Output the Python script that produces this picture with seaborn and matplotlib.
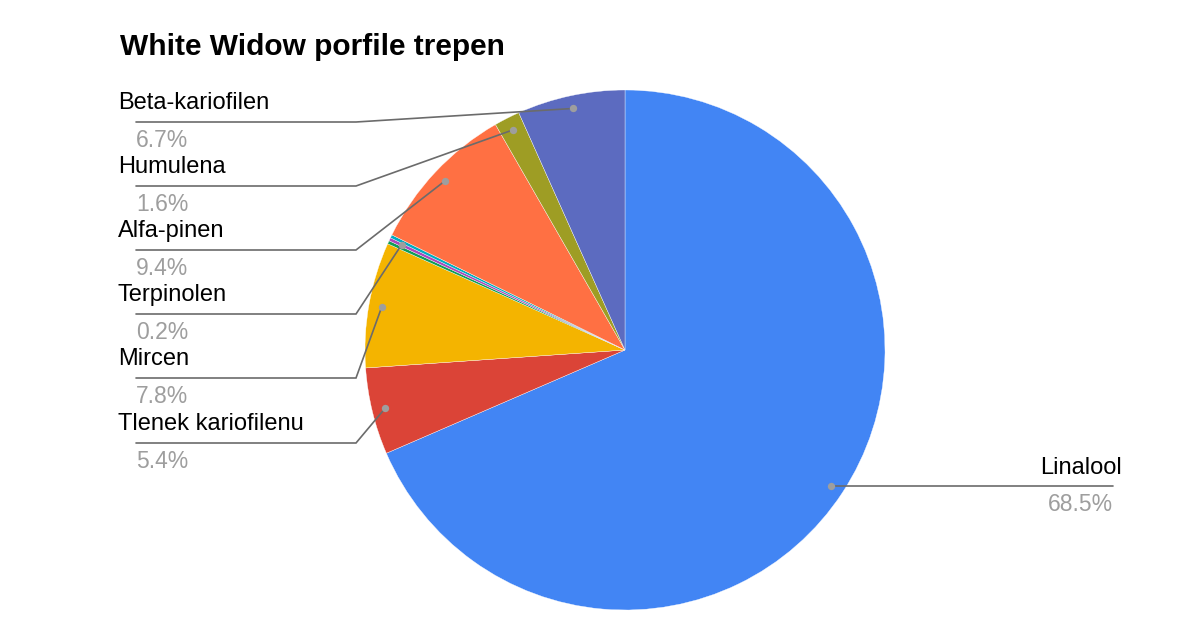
import matplotlib
matplotlib.use("Agg")
import matplotlib.pyplot as plt
import seaborn as sns
import numpy as np

# dane - profil terpenow (kolejnosc zgodnie z ruchem wskazowek od godziny 12)
nazwy = ['Linalool', 'Tlenek kariofilenu', 'Mircen', '', 'Terpinolen', '',
         'Alfa-pinen', 'Humulena', 'Beta-kariofilen']
procenty = [68.5, 5.4, 7.8, 0.2, 0.2, 0.2, 9.4, 1.6, 6.7]
etykiety_proc = ['68.5%', '5.4%', '7.8%', '', '0.2%', '', '9.4%', '1.6%', '6.7%']
kolory = ['#4285F4', '#DB4437', '#F4B400', '#0F9D58', '#AB47BC', '#00ACC1',
          '#FF7043', '#9E9D24', '#5C6BC0']

sns.set_theme(style="white")
plt.rcParams['font.family'] = ['Liberation Sans', 'DejaVu Sans']

fig = plt.figure(figsize=(12, 6.29), dpi=100)
ax = fig.add_axes([0, 0, 1, 1])

srodek = (625, 350)
promien = 260
wedges, _ = ax.pie(procenty, colors=kolory, startangle=-90, counterclock=True,
                   center=srodek, radius=promien,
                   wedgeprops=dict(edgecolor='white', linewidth=0.25))

ax.set_xlim(0, 1200)
ax.set_ylim(629, 0)
ax.set_aspect('equal')
ax.set_axis_off()

# polozenia linii etykiet po lewej stronie (y linii poziomej)
lewe_y = {'Beta-kariofilen': 122, 'Humulena': 186, 'Alfa-pinen': 250,
          'Terpinolen': 314, 'Mircen': 378, 'Tlenek kariofilenu': 443}
szary_linia = '#6b6b6b'
szary_tekst = '#9e9e9e'

for w, nazwa, proc in zip(wedges, nazwy, etykiety_proc):
    if nazwa == '':
        continue
    kat = np.deg2rad((w.theta1 + w.theta2) / 2)
    px = srodek[0] + 0.95 * promien * np.cos(kat)
    py = srodek[1] + 0.95 * promien * np.sin(kat)
    if nazwa in lewe_y:
        ly = lewe_y[nazwa]
        ax.plot([px, 356, 136], [py, ly, ly], color=szary_linia, lw=1.2,
                solid_joinstyle='miter', zorder=3)
        ax.text(118, ly - 13, nazwa, fontsize=17, color='black',
                ha='left', va='baseline')
        ax.text(136, ly + 25, proc, fontsize=16.5, color=szary_tekst,
                ha='left', va='baseline')
    else:
        ax.plot([px, 1113], [py, py], color=szary_linia, lw=1.2, zorder=3)
        ax.text(1122, py - 12, nazwa, fontsize=17, color='black',
                ha='right', va='baseline')
        ax.text(1113, py + 25, proc, fontsize=16.5, color=szary_tekst,
                ha='right', va='baseline')
    ax.scatter([px], [py], s=28, color=szary_tekst, zorder=4, linewidths=0)

ax.text(120, 55, 'White Widow porfile trepen', fontsize=21.5,
        fontweight='bold', color='black', ha='left', va='baseline')

fig.savefig('out.png', dpi=100)
